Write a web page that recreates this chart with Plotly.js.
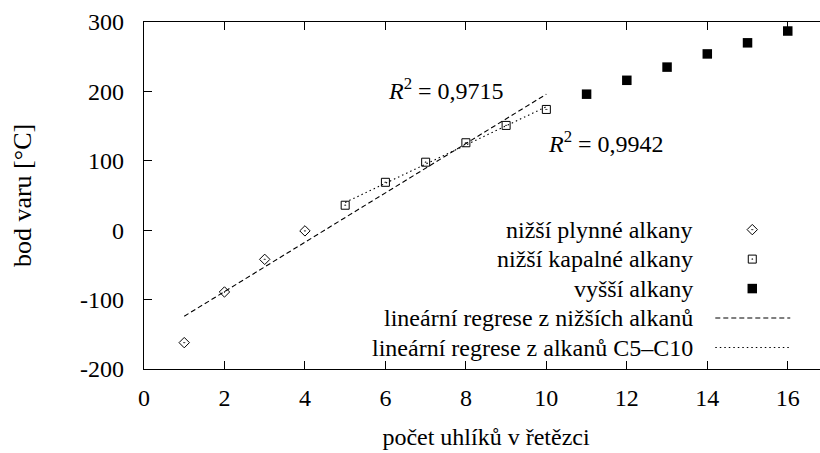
<!DOCTYPE html>
<html>
<head>
<meta charset="utf-8">
<script src="https://cdn.plot.ly/plotly-3.0.1.min.js"></script>
</head>
<body style="margin:0;overflow:hidden;background:#fff">
<div id="chart" style="width:828px;height:453px"></div>
<script>
// ---- data ----
const gasX = [1, 2, 3, 4];
const gasY = [-162, -89, -42, -1];
const liquidX = [5, 6, 7, 8, 9, 10];
const liquidY = [36, 69, 98, 126, 151, 174];
const higherX = [11, 12, 13, 14, 15, 16];
const higherY = [196, 216, 235, 254, 270, 287];
const regLowX = [1, 10];
const regLowY = [-124, 196];
const regC5X = [5, 10];
const regC5Y = [40, 178];
const xTickVals = [0, 2, 4, 6, 8, 10, 12, 14, 16];
const xTickText = ['0', '2', '4', '6', '8', '10', '12', '14', '16'];
const yTickVals = [-200, -100, 0, 100, 200, 300];
const yTickText = ['-200', '-100', '0', '100', '200', '300'];
const seriesNames = ['nižší plynné alkany', 'nižší kapalné alkany', 'vyšší alkany',
  'lineární regrese z nižších alkanů', 'lineární regrese z alkanů C5–C10'];
const r2Texts = ['<i>R</i><sup>2</sup> = 0,9715', '<i>R</i><sup>2</sup> = 0,9942'];

const serifFam = 'Liberation Serif';
const fontSize = 24;
function tf(sz) { return {family: serifFam, size: sz || fontSize, color: 'black'}; }

const diamond = {symbol: 'diamond-open-dot', size: 8, color: '#000', line: {width: 1, color: '#000'}};
const sqOpen = {symbol: 'square-open-dot', size: 8, color: '#000', line: {width: 1, color: '#000'}};
const sqFill = {symbol: 'square', size: 9.5, color: '#000', line: {width: 0}};
const dashLine = {color: '#000', width: 1.1, dash: '5px,3px'};
const dotLine = {color: '#000', width: 1.1, dash: '1.5px,3px'};

const traces = [
  {x: regLowX, y: regLowY, mode: 'lines', line: dashLine, name: seriesNames[3], hoverinfo: 'skip'},
  {x: regC5X, y: regC5Y, mode: 'lines', line: dotLine, name: seriesNames[4], hoverinfo: 'skip'},
  {x: gasX, y: gasY, mode: 'markers', marker: diamond, name: seriesNames[0]},
  {x: liquidX, y: liquidY, mode: 'markers', marker: sqOpen, name: seriesNames[1]},
  {x: higherX, y: higherY, mode: 'markers', marker: sqFill, name: seriesNames[2]},
];

// gnuplot-style key (text right-aligned, sample on the right), on an overlay axis in pixel units
const keyRows = [229.5, 259, 288.5, 318, 347.5];
const keyTextX = 695, keySymX = 752, keyLineX0 = 715, keyLineX1 = 790;
[diamond, sqOpen, sqFill].forEach((m, i) => {
  traces.push({x: [keySymX], y: [keyRows[i]], xaxis: 'x2', yaxis: 'y2', mode: 'markers', marker: m, hoverinfo: 'skip'});
});
[dashLine, dotLine].forEach((l, i) => {
  traces.push({x: [keyLineX0, keyLineX1], y: [keyRows[3 + i], keyRows[3 + i]], xaxis: 'x2', yaxis: 'y2', mode: 'lines', line: l, hoverinfo: 'skip'});
});

const annotations = seriesNames.map((t, i) => ({
  xref: 'x2', yref: 'y2', x: keyTextX, y: keyRows[i], text: t, showarrow: false,
  xanchor: 'right', yanchor: 'middle', font: tf()
}));
annotations.push({xref: 'x2', yref: 'y2', x: 446, y: 89, text: r2Texts[0], showarrow: false,
  xanchor: 'center', yanchor: 'middle', font: tf()});
annotations.push({xref: 'x2', yref: 'y2', x: 606, y: 142, text: r2Texts[1], showarrow: false,
  xanchor: 'center', yanchor: 'middle', font: tf()});

function axis(extra) {
  return Object.assign({
    showgrid: false, zeroline: false, showline: true, linecolor: '#000', linewidth: 1.4,
    mirror: 'ticks', ticks: 'inside', ticklen: 8, tickwidth: 1, tickcolor: '#000',
    tickfont: tf(), tickmode: 'array', automargin: false
  }, extra);
}

const layout = {
  width: 828, height: 453,
  margin: {l: 143.5, r: 0.25, t: 21.7, b: 84},
  paper_bgcolor: '#fff', plot_bgcolor: '#fff',
  showlegend: false,
  xaxis: axis({
    range: [0, 17], tickvals: xTickVals, ticktext: xTickText, ticklabelstandoff: 7,
    title: {text: 'počet uhlíků v řetězci', font: tf(), standoff: 18}
  }),
  yaxis: axis({
    range: [-200, 300], tickvals: yTickVals, ticktext: yTickText, ticklabelstandoff: 14,
    title: {text: 'bod varu [°C]', font: tf(26), standoff: 40}
  }),
  xaxis2: {overlaying: 'x', range: [143.5, 827.75], visible: false},
  yaxis2: {overlaying: 'y', range: [369, 21.7], visible: false},
  annotations: annotations
};

Plotly.newPlot('chart', traces, layout, {displayModeBar: false});
</script>
</body>
</html>
